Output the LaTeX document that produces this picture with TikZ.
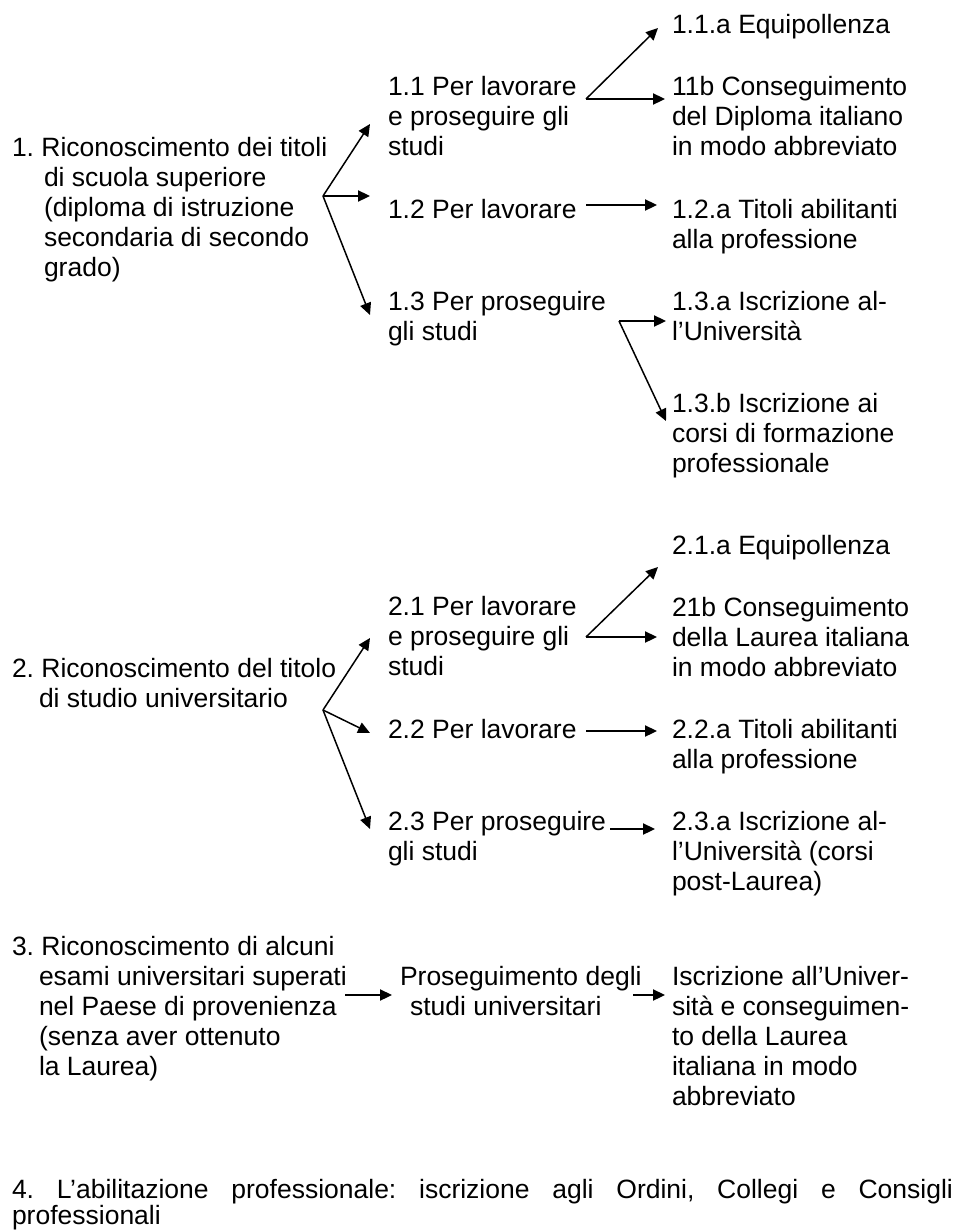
\documentclass[tikz,border=0pt]{standalone}
\usepackage{fontspec}
\setmainfont{Liberation Sans}
\usetikzlibrary{arrows.meta}
\frenchspacing
\newcommand{\ml}[1]{\vtop{\baselineskip=15pt\lineskiplimit=-20pt\halign{##\hfil\cr #1\crcr}}}
\tikzset{
  txt/.style={anchor=base west, inner sep=0pt, outer sep=0pt, font=\fontsize{13.25pt}{15pt}\selectfont\frenchspacing},
  arr/.style={-{Triangle[length=6pt,width=5.6pt]}, line width=0.75pt}
}
\begin{document}
\begin{tikzpicture}[x=0.5pt,y=-0.5pt]
\useasboundingbox (0,0) rectangle (958,1232);
% ---------- section 1 ----------
\node[txt] (n1) at (12,156) {\ml{1. Riconoscimento dei titoli\cr\hspace{16pt}di scuola superiore\cr\hspace{16pt}(diploma di istruzione\cr\hspace{16pt}secondaria di secondo\cr\hspace{16pt}grado)}};
\node[txt] (n11) at (388,95) {\ml{1.1 Per lavorare\cr e proseguire gli\cr studi}};
\node[txt] (n12) at (388,218) {1.2 Per lavorare};
\node[txt] (n13) at (388,310) {\ml{1.3 Per proseguire\cr gli studi}};
\node[txt] (n11a) at (672,33) {1.1.a Equipollenza};
\node[txt] (n11b) at (672,95) {\ml{11b Conseguimento\cr del Diploma italiano\cr in modo abbreviato}};
\node[txt] (n12a) at (672,218) {\ml{1.2.a Titoli abilitanti\cr alla professione}};
\node[txt] (n13a) at (672,310) {\ml{1.3.a Iscrizione al-\cr l’Università}};
\node[txt] (n13b) at (672,412) {\ml{1.3.b Iscrizione ai\cr corsi di formazione\cr professionale}};
\coordinate (f1) at (323,196);
\coordinate (e11) at (370,124);
\coordinate (e12) at (370,196);
\coordinate (e13) at (370,315);
\coordinate (f11) at (586,99);
\coordinate (e11a) at (658,28);
\coordinate (e11b) at (665,99);
\coordinate (s12) at (586,205);
\coordinate (e12a) at (657,205);
\coordinate (f13) at (619,321);
\coordinate (e13a) at (666,321);
\coordinate (e13b) at (666,421);
\draw[arr] (f1) -- (e11);
\draw[arr] (f1) -- (e12);
\draw[arr] (f1) -- (e13);
\draw[arr] (f11) -- (e11a);
\draw[arr] (f11) -- (e11b);
\draw[arr] (s12) -- (e12a);
\draw[arr] (f13) -- (e13a);
\draw[arr] (f13) -- (e13b);
% ---------- section 2 ----------
\node[txt] (n2) at (12,677) {\ml{2. Riconoscimento del titolo\cr\hspace{13.5pt}di studio universitario}};
\node[txt] (n21) at (388,615) {\ml{2.1 Per lavorare\cr e proseguire gli\cr studi}};
\node[txt] (n22) at (388,738) {2.2 Per lavorare};
\node[txt] (n23) at (388,830) {\ml{2.3 Per proseguire\cr gli studi}};
\node[txt] (n21a) at (672,554) {2.1.a Equipollenza};
\node[txt] (n21b) at (672,616) {\ml{21b Conseguimento\cr della Laurea italiana\cr in modo abbreviato}};
\node[txt] (n22a) at (672,738) {\ml{2.2.a Titoli abilitanti\cr alla professione}};
\node[txt] (n23a) at (672,830) {\ml{2.3.a Iscrizione al-\cr l’Università (corsi\cr post-Laurea)}};
\coordinate (f2) at (323,710);
\coordinate (e21) at (370,638);
\coordinate (e22) at (370,733);
\coordinate (e23) at (370,829);
\coordinate (f21) at (586,637);
\coordinate (e21a) at (658,567);
\coordinate (e21b) at (657,637);
\coordinate (s22) at (586,731);
\coordinate (e22a) at (657,731);
\coordinate (s23) at (610,829);
\coordinate (e23a) at (655,829);
\draw[arr] (f2) -- (e21);
\draw[arr] (f2) -- (e22);
\draw[arr] (f2) -- (e23);
\draw[arr] (f21) -- (e21a);
\draw[arr] (f21) -- (e21b);
\draw[arr] (s22) -- (e22a);
\draw[arr] (s23) -- (e23a);
% ---------- section 3 ----------
\node[txt] (n3) at (12,955) {\ml{3. Riconoscimento di alcuni\cr\hspace{13.5pt}esami universitari superati\cr\hspace{13.5pt}nel Paese di provenienza\cr\hspace{13.5pt}(senza aver ottenuto\cr\hspace{13.5pt}la Laurea)}};
\node[txt] (n3b) at (400,985) {\ml{Proseguimento degli\cr\hspace{5pt}studi universitari}};
\node[txt] (n3c) at (672,985) {\ml{Iscrizione all’Univer-\cr sità e conseguimen-\cr to della Laurea\cr italiana in modo\cr abbreviato}};
\coordinate (s31) at (345,995);
\coordinate (e31) at (392,995);
\coordinate (s32) at (633,995);
\coordinate (e32) at (665,995);
\draw[arr] (s31) -- (e31);
\draw[arr] (s32) -- (e32);
% ---------- section 4 ----------
\node[txt] (n4) at (12,1198) {\vtop{\baselineskip=13pt\hbox to 470.5pt{4. L’abilitazione professionale: iscrizione agli Ordini, Collegi e Consigli}\hbox{professionali}}};
\end{tikzpicture}
\end{document}
